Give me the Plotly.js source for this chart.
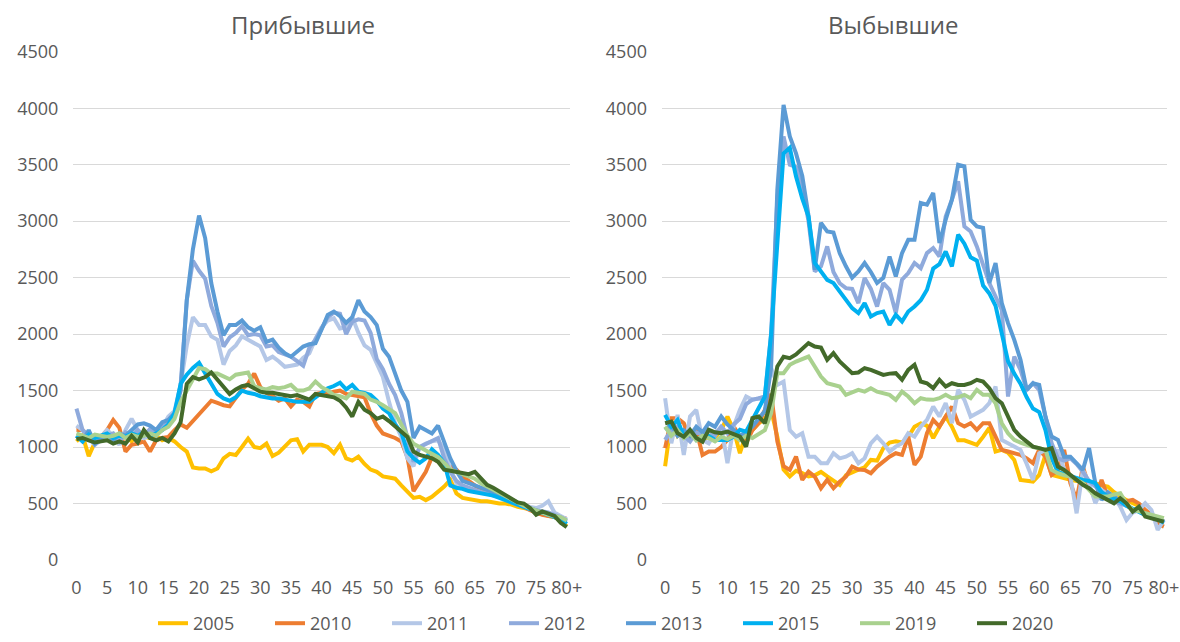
<!DOCTYPE html>
<html>
<head>
<meta charset="utf-8">
<script src="https://cdn.plot.ly/plotly-3.0.1.min.js"></script>
<style>html,body{margin:0;padding:0;background:#fff;}#chart{width:1180px;height:642px;}</style>
</head>
<body>
<div id="chart"></div>
<script>
const ages = ["0","1","2","3","4","5","6","7","8","9","10","11","12","13","14","15","16","17","18","19",
"20","21","22","23","24","25","26","27","28","29","30","31","32","33","34","35","36","37","38","39",
"40","41","42","43","44","45","46","47","48","49","50","51","52","53","54","55","56","57","58","59",
"60","61","62","63","64","65","66","67","68","69","70","71","72","73","74","75","76","77","78","79","80+"];
const tickLabels = ["0","5","10","15","20","25","30","35","40","45","50","55","60","65","70","75","80+"];
const years = ["2005","2010","2011","2012","2013","2015","2019","2020"];
const titleLeft = "Прибывшие";
const titleRight = "Выбывшие";

// Прибывшие (arrivals)
const arr2005 = [1050,1100,920,1040,1080,1100,1060,1080,1100,1050,
 1120,1090,1080,1100,1060,1080,1050,1000,960,820,
 810,810,785,810,900,940,930,1000,1075,1000,
 990,1030,920,950,1000,1060,1070,960,1020,1020,
 1020,1000,945,1020,900,880,915,850,800,780,
 740,730,720,660,600,550,560,530,560,600,
 650,710,590,550,540,530,520,520,510,500,
 500,490,470,460,450,420,410,390,380,350,
 300];
const arr2010 = [1150,1150,1090,1060,1090,1150,1240,1170,960,1020,
 1030,1050,960,1060,1080,1090,1150,1200,1170,1230,
 1290,1360,1410,1390,1370,1360,1430,1510,1560,1650,
 1530,1480,1450,1410,1430,1360,1420,1400,1360,1470,
 1480,1470,1490,1500,1470,1460,1450,1440,1300,1190,
 1120,1100,1080,1050,910,610,700,780,910,870,
 850,820,800,740,700,650,620,600,580,560,
 540,510,490,470,440,420,400,390,380,360,
 370];
const arr2011 = [1190,1150,1080,1020,1090,1150,1100,1020,1150,1250,
 1150,1080,1100,1150,1180,1270,1320,1550,1900,2150,
 2080,2080,1980,1950,1730,1850,1900,1980,1950,1920,
 1890,1770,1800,1760,1710,1720,1730,1790,1830,1960,
 2060,2120,2140,2050,2060,2150,2010,1900,1860,1740,
 1620,1400,1210,1090,900,830,1000,1030,1050,1060,
 980,800,680,640,630,620,600,590,580,570,
 540,520,500,490,470,460,480,520,420,390,
 360];
const arr2012 = [1340,1150,1100,1020,1060,1100,1120,1050,1130,1100,
 1150,1100,1160,1100,1180,1230,1280,1550,2300,2650,
 2560,2490,2250,2100,1890,1970,2010,2070,1990,2000,
 1990,1890,1900,1840,1820,1800,1760,1720,1880,1950,
 2050,2150,2190,2180,2000,2110,2130,2120,2010,1780,
 1690,1560,1460,1300,1080,870,1000,1030,1050,1080,
 900,780,700,660,640,620,600,590,570,560,
 540,510,490,470,450,440,430,420,400,380,
 350];
const arr2013 = [1100,1050,1150,1030,1080,1100,1060,1120,1100,1150,
 1200,1210,1190,1150,1220,1240,1300,1500,2300,2750,
 3050,2850,2450,2200,1990,2080,2080,2120,2060,2030,
 2060,1930,1950,1880,1830,1800,1840,1890,1910,1920,
 2040,2170,2200,2160,2100,2150,2300,2200,2150,2080,
 1870,1800,1650,1500,1400,1080,1180,1150,1120,1190,
 1050,900,790,700,680,660,640,620,600,580,
 560,530,500,480,460,440,420,400,390,370,
 340];
const arr2015 = [1100,1050,1110,1080,1100,1120,1080,1100,1090,1120,
 1100,1130,1100,1120,1150,1200,1300,1560,1640,1700,
 1745,1650,1550,1470,1430,1410,1440,1500,1480,1470,
 1450,1440,1430,1430,1420,1410,1400,1400,1400,1440,
 1480,1520,1540,1570,1510,1550,1490,1480,1460,1410,
 1340,1300,1200,1130,960,900,860,900,980,930,
 860,660,640,630,610,600,590,580,570,550,
 530,510,490,470,450,430,420,400,380,360,
 320];
const arr2019 = [1120,1100,1080,1110,1100,1090,1100,1120,1080,1110,
 1090,1100,1120,1100,1150,1180,1250,1400,1500,1600,
 1700,1690,1650,1650,1620,1600,1640,1650,1660,1540,
 1520,1510,1530,1520,1530,1550,1500,1500,1520,1580,
 1530,1500,1460,1450,1430,1490,1480,1470,1420,1400,
 1370,1330,1300,1200,1100,1030,1000,980,950,910,
 860,800,780,760,740,720,680,650,620,600,
 570,530,500,480,460,440,420,400,390,380,
 350];
const arr2020 = [1070,1080,1060,1040,1050,1060,1030,1050,1030,1100,
 1040,1150,1080,1060,1080,1050,1120,1220,1560,1620,
 1600,1620,1660,1600,1540,1470,1510,1540,1550,1520,
 1490,1480,1480,1470,1460,1450,1460,1440,1420,1470,
 1460,1450,1440,1410,1350,1270,1400,1330,1300,1250,
 1270,1230,1180,1140,1090,960,930,915,900,870,
 800,790,780,770,760,780,720,665,640,610,
 570,540,510,500,460,400,430,410,390,330,
 290];

// Выбывшие (departures)
const dep2005 = [830,1240,1100,1150,1080,1120,1050,1100,1080,1150,
 1270,1150,945,1120,1150,1210,1250,1330,1090,800,
 740,790,770,740,750,780,740,700,665,750,
 780,800,820,886,880,990,1040,1050,1040,1090,
 1180,1210,1190,1080,1180,1270,1180,1060,1060,1040,
 1020,1090,1170,960,975,950,886,709,700,694,
 753,930,753,738,720,710,700,709,690,680,
 660,650,600,561,530,502,480,428,400,354,
 340];
const dep2010 = [990,1255,1255,1210,1063,1152,930,960,960,1000,
 1063,1181,1092,1033,1150,1211,1329,1470,1050,830,
 797,915,709,783,738,635,709,635,694,738,
 827,800,797,768,827,870,915,945,930,1092,
 842,915,1122,1240,1181,1270,1358,1211,1181,1211,
 1152,1211,1211,1092,975,960,945,930,900,857,
 975,915,753,797,975,680,532,827,650,532,
 709,561,532,532,520,532,500,443,400,320,
 295];
const dep2011 = [1432,1033,1285,930,1270,1329,1063,1033,1122,1180,
 857,1181,1329,1447,1418,1432,1420,1700,1550,1580,
 1150,1092,1122,915,915,857,857,945,900,915,
 945,857,900,1033,1092,1033,960,1004,1034,1122,
 1092,1181,1240,1358,1270,1388,1211,1506,1418,1270,
 1300,1329,1388,1536,1063,1034,1000,975,850,709,
 945,975,915,975,797,738,413,797,680,502,
 620,580,561,472,354,420,443,502,443,266,
 354];
const dep2012 = [1063,1150,1180,1100,1050,1130,1110,1150,1100,1180,
 1120,1200,1250,1380,1420,1430,1450,2000,3200,3750,
 3500,3480,3300,3000,2554,2600,2776,2550,2450,2407,
 2400,2274,2496,2400,2244,2452,2392,2186,2481,2540,
 2629,2584,2717,2762,2687,3041,3190,3352,2953,2909,
 2776,2600,2452,2333,2215,1447,1801,1683,1506,1565,
 1506,1270,1034,900,880,900,850,780,700,650,
 600,560,520,500,480,450,430,400,380,360,
 340];
const dep2013 = [1150,1200,1100,1150,1100,1180,1130,1211,1180,1270,
 1200,1150,1100,1130,1180,1250,1320,1700,3280,4030,
 3750,3600,3400,3050,2570,2985,2909,2900,2717,2600,
 2500,2554,2629,2550,2452,2498,2687,2510,2717,2835,
 2835,3160,3145,3249,2806,3012,3190,3500,3485,3012,
 2953,2940,2452,2629,2274,2097,1949,1772,1506,1565,
 1550,1270,1092,1063,915,915,850,797,990,680,
 532,600,560,520,480,450,430,400,390,360,
 340];
const dep2015 = [1285,1181,1240,1092,1122,1063,1092,1100,1063,1063,
 1063,1092,1152,1137,1240,1329,1447,2000,2800,3600,
 3650,3396,3200,3041,2629,2554,2480,2452,2380,2304,
 2230,2186,2274,2156,2186,2200,2082,2171,2112,2200,
 2244,2300,2392,2580,2620,2732,2599,2880,2800,2680,
 2650,2430,2360,2250,2000,1760,1650,1560,1440,1340,
 1310,1150,900,780,760,740,720,709,700,680,
 600,560,540,520,480,450,420,400,380,360,
 330];
const dep2019 = [1181,1100,1150,1080,1120,1060,1100,1080,1050,1090,
 1070,1100,1060,1100,1080,1120,1150,1300,1654,1654,
 1728,1757,1780,1801,1713,1624,1565,1550,1536,1462,
 1480,1506,1491,1521,1490,1477,1462,1418,1491,1447,
 1388,1432,1420,1418,1432,1462,1432,1440,1462,1432,
 1506,1462,1462,1388,1211,1122,1063,1040,1019,1000,
 990,975,797,768,750,738,710,680,620,561,
 561,561,580,591,500,443,430,413,400,384,
 370];
const dep2020 = [1211,1225,1122,1092,1152,1080,1048,1152,1130,1122,
 1137,1110,1092,1004,1255,1270,1211,1418,1713,1800,
 1787,1820,1870,1920,1890,1880,1772,1831,1757,1700,
 1654,1660,1698,1683,1660,1639,1650,1654,1595,1683,
 1728,1580,1565,1521,1595,1536,1565,1550,1550,1565,
 1595,1580,1521,1432,1388,1260,1152,1092,1048,1004,
 990,975,990,827,797,753,709,665,635,591,
 561,530,502,546,502,428,472,384,370,354,
 339];

const arrivals = [arr2005, arr2010, arr2011, arr2012, arr2013, arr2015, arr2019, arr2020];
const departures = [dep2005, dep2010, dep2011, dep2012, dep2013, dep2015, dep2019, dep2020];
const colors = ["#FFC000","#ED7D31","#B4C7E7","#8FAADC","#5B9BD5","#00B0F0","#A9D18E","#436A2A"];

const traces = [];
years.forEach((yr, i) => {
  traces.push({type:'scatter', mode:'lines', name:yr, legendgroup:yr, x:ages, y:arrivals[i],
    xaxis:'x', yaxis:'y', line:{color:colors[i], width:4}, hoverinfo:'skip'});
});
years.forEach((yr, i) => {
  traces.push({type:'scatter', mode:'lines', name:yr, legendgroup:yr, showlegend:false, x:ages, y:departures[i],
    xaxis:'x2', yaxis:'y2', line:{color:colors[i], width:4}, hoverinfo:'skip'});
});

const fontFam = '"Open Sans", "Noto Sans", sans-serif';
const tickFont = {family:fontFam, size:18, color:'#595959'};
const xBase = {type:'category', range:[-0.5, 80.5], tickmode:'array', tickvals:tickLabels, ticktext:tickLabels,
  tickangle:0, showgrid:false, zeroline:false, showline:false, ticks:'', tickfont:tickFont, ticklabelstandoff:15, fixedrange:true};
const yBase = {range:[-2, 4502], tickmode:'array', tickvals:[0,500,1000,1500,2000,2500,3000,3500,4000,4500],
  showgrid:true, gridcolor:'#D9D9D9', gridwidth:1, zeroline:false, showline:false, ticks:'', tickfont:tickFont,
  ticklabelstandoff:14, fixedrange:true};

const layout = {
  width:1180, height:642,
  margin:{l:0, r:0, t:0, b:0, autoexpand:false},
  paper_bgcolor:'#ffffff', plot_bgcolor:'#ffffff',
  showlegend:true,
  xaxis: Object.assign({}, xBase, {domain:[0.0622, 0.4829], anchor:'y'}),
  yaxis: Object.assign({}, yBase, {domain:[0.1274, 0.9198], anchor:'x'}),
  xaxis2: Object.assign({}, xBase, {domain:[0.561, 0.989], anchor:'y2'}),
  yaxis2: Object.assign({}, yBase, {domain:[0.1274, 0.9198], anchor:'x2'}),
  legend:{orientation:'h', xref:'container', yref:'container', x:0.5 + 31/1180, xanchor:'center', y:0, yanchor:'bottom',
    font:{family:fontFam, size:18, color:'#595959'}, entrywidth:72, entrywidthmode:'pixels',
    itemwidth:30, bgcolor:'rgba(0,0,0,0)', traceorder:'normal', borderwidth:0},
  annotations:[
    {text:titleLeft, xref:'paper', yref:'paper', x:303/1180, y:(642-25)/642, xanchor:'center', yanchor:'middle',
     showarrow:false, font:{family:fontFam, size:24, color:'#595959'}},
    {text:titleRight, xref:'paper', yref:'paper', x:893/1180, y:(642-25)/642, xanchor:'center', yanchor:'middle',
     showarrow:false, font:{family:fontFam, size:24, color:'#595959'}}
  ]
};

Plotly.newPlot('chart', traces, layout, {staticPlot:true, displayModeBar:false});
</script>
</body>
</html>
